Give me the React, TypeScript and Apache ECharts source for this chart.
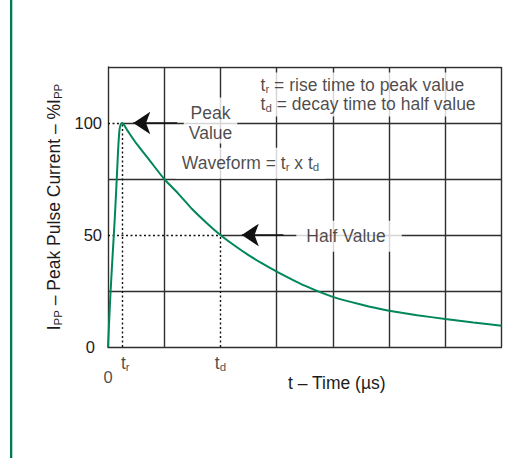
import React, { useEffect, useRef } from 'react';
import * as echarts from 'echarts';

// ---- data ----
const timeTicks = [0, 1, 2, 3, 4, 5, 6, 7];
const currentTicks = [0, 25, 50, 75, 100, 125];
const currentLabels = [0, 50, 100];
const tRise = 0.255;
const tDecay = 2;
const peakValue = 100;
const halfValue = 50;

const pulseTime = [0, 0.04, 0.08, 0.115, 0.15, 0.18, 0.205, 0.23, 0.255, 0.35, 0.5, 0.75, 1, 1.25, 1.5, 1.75, 2, 2.25, 2.5, 2.75, 3, 3.5, 4, 4.5, 5, 5.5, 6, 6.5, 7];
const pulseCurrent = [0, 22, 40, 55, 72, 88, 97, 99.6, 100, 96.5, 91, 83, 75, 68.5, 61.5, 55.5, 50, 45.3, 41, 37.2, 33.7, 27.4, 22.4, 19, 16.2, 14.2, 12.5, 10.9, 9.5];

// annotation anchors (data units)
const peakArrow = [[1.23, 100], [0.45, 100]];
const halfArrow = [[3.12, 50], [2.38, 50]];
const peakLabelAt = [1.824, 101.1];
const waveLabelAt = [2.535, 82.0];
const halfLabelAt = [4.288, 49.4];
const legendLabelAt = [2.616, 112.7];

const FONT = '"Liberation Sans", Arial, Helvetica, sans-serif';
const INK = '#1e1b1c';
const GRID = '#2f2f2f';
const GREEN = '#00865c';
const BOX = '#ffffff';

export default function App() {
  const ref = useRef<HTMLDivElement>(null);
  useEffect(() => {
    const chart = echarts.init(ref.current!, null, { renderer: 'svg' });
    const sub = { fontSize: 11.5, lineHeight: 8, verticalAlign: 'bottom', fontFamily: FONT, color: INK };
    const rich = { sub };
    const xMax = timeTicks[timeTicks.length - 1];
    const yMax = currentTicks[currentTicks.length - 1];

    const solid: any[] = [];
    currentTicks.forEach((y) => {
      if (y === 0) return;
      if (y === peakValue) solid.push({ coords: [[tRise, y], [xMax, y]] });
      else if (y === halfValue) solid.push({ coords: [[tDecay, y], [xMax, y]] });
      else solid.push({ coords: [[0, y], [xMax, y]] });
    });
    timeTicks.forEach((x) => {
      if (x === 0) return;
      if (x === tDecay) solid.push({ coords: [[x, halfValue], [x, yMax]] });
      else solid.push({ coords: [[x, 0], [x, yMax]] });
    });
    const dotted = [
      { coords: [[0, peakValue], [tRise, peakValue]] },
      { coords: [[tRise, 0], [tRise, peakValue]] },
      { coords: [[0, halfValue], [tDecay, halfValue]] },
      { coords: [[tDecay, 0], [tDecay, halfValue]] },
    ];

    const baseLabel = { fontFamily: FONT, fontSize: 17.5, color: INK, rich };

    const option: any = {
      animation: false,
      grid: { left: 108, top: 67, right: 30.5, bottom: 111 },
      graphic: [
        { type: 'rect', shape: { x: 10, y: 0, width: 2.3, height: 458 }, style: { fill: '#007a55' }, silent: true },
      ],
      xAxis: {
        type: 'value', min: 0, max: xMax, interval: 1,
        axisLine: { show: true, lineStyle: { color: GRID, width: 1.4 } },
        axisTick: { show: false }, axisLabel: { show: false }, splitLine: { show: false },
        name: 't – Time (µs)', nameLocation: 'middle', nameGap: 27,
        nameTextStyle: { fontFamily: FONT, fontSize: 17.5, color: INK, padding: [0, 0, 0, 64] },
      },
      yAxis: {
        type: 'value', min: 0, max: yMax, interval: 25,
        axisLine: { show: true, lineStyle: { color: GRID, width: 1.4 } },
        axisTick: { show: false }, splitLine: { show: false },
        axisLabel: {
          margin: 6, fontFamily: FONT, fontSize: 16.5, color: INK,
          formatter: (v: number) => (currentLabels.includes(v) ? (v === 0 ? '{z|0}' : String(v)) : ''),
          rich: { z: { padding: [0, 7, 0, 0], fontFamily: FONT, fontSize: 16.5, color: INK } },
        },
        name: 'I{sub|PP} – Peak Pulse Current – %I{sub|PP}', nameLocation: 'middle', nameGap: 33,
        nameTextStyle: { fontFamily: FONT, fontSize: 17.5, color: INK, lineHeight: 19, rich },
      },
      series: [
        {
          type: 'lines', coordinateSystem: 'cartesian2d', silent: true, z: 1,
          lineStyle: { color: GRID, width: 1.4, opacity: 1 }, data: solid,
        },
        {
          type: 'lines', coordinateSystem: 'cartesian2d', silent: true, z: 1,
          lineStyle: { color: '#111', width: 1.4, type: [2, 2.5], opacity: 1 }, data: dotted,
        },
        {
          type: 'line', silent: true, z: 3, smooth: 0.2, showSymbol: false,
          lineStyle: { color: GREEN, width: 2 },
          data: pulseTime.map((t, i) => [t, pulseCurrent[i]]),
        },
        {
          type: 'lines', coordinateSystem: 'cartesian2d', silent: true, z: 4,
          symbol: ['none', 'arrow'], symbolSize: [10.5, 17],
          lineStyle: { color: '#111', width: 1.6, opacity: 1 },
          itemStyle: { color: '#111' },
          data: [{ coords: peakArrow }, { coords: halfArrow }],
        },
        {
          type: 'scatter', silent: true, z: 10, zlevel: 1, symbolSize: 1, itemStyle: { color: 'transparent' },
          data: [
            { value: peakLabelAt, label: { ...baseLabel, show: true, position: 'inside', formatter: 'Peak\nValue', lineHeight: 20, align: 'center', backgroundColor: BOX, padding: [5, 5, 1, 5] } },
            { value: waveLabelAt, label: { ...baseLabel, show: true, position: 'inside', formatter: 'Waveform = t{sub|r} x t{sub|d}', lineHeight: 19, backgroundColor: BOX, padding: [6, 6] } },
            { value: halfLabelAt, label: { ...baseLabel, show: true, position: 'inside', formatter: 'Half Value', lineHeight: 19, backgroundColor: BOX, padding: [6, 16, 6, 10] } },
            { value: legendLabelAt, label: { ...baseLabel, show: true, position: 'right', distance: 0, formatter: 't{sub|r} = rise time to peak value\nt{sub|d} = decay time to half value', lineHeight: 19, backgroundColor: BOX, padding: [3, 5] } },
          ],
        },
        {
          type: 'scatter', silent: true, z: 10, zlevel: 1, symbolSize: 1, itemStyle: { color: 'transparent' },
          data: [
            { value: [0, 0], label: { ...baseLabel, fontSize: 16.5, show: true, position: 'bottom', distance: 21, formatter: '0' } },
            { value: [tRise, 0], label: { ...baseLabel, show: true, position: 'bottom', distance: 6, lineHeight: 19, formatter: 't{sub|r}', padding: [0, 0, 0, 6] } },
            { value: [tDecay, 0], label: { ...baseLabel, show: true, position: 'bottom', distance: 6, lineHeight: 19, formatter: 't{sub|d}' } },
          ],
        },
      ],
    };
    chart.setOption(option);
    return () => chart.dispose();
  }, []);
  return <div ref={ref} style={{ position: 'absolute', left: 0, top: 0, width: 532, height: 458 }} />;
}
